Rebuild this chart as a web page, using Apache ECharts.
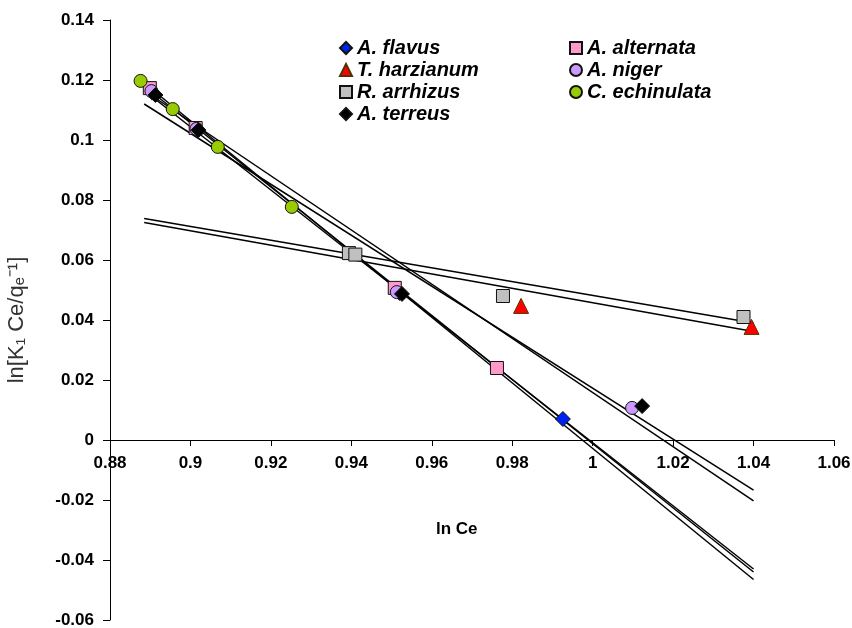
<!DOCTYPE html>
<html>
<head>
<meta charset="utf-8">
<script src="https://cdn.jsdelivr.net/npm/echarts@6/dist/echarts.min.js"></script>
<style>
  html, body { margin: 0; padding: 0; background: #fff; }
  #chart { width: 852px; height: 628px; }
</style>
</head>
<body>
<div id="chart"></div>
<script>
// measured points [ln Ce, ln(K1 Ce/qe^-1)]
const flavus     = [[0.8905, 0.1158], [0.9017, 0.1035], [0.9520, 0.0490], [0.9926, 0.0070]];
const alternata  = [[0.8899, 0.1173], [0.9013, 0.1040], [0.9508, 0.0507], [0.9762, 0.0240]];
const harzianum  = [[0.9822, 0.0447], [1.0395, 0.0377]];
const niger      = [[0.8903, 0.1163], [0.9015, 0.1037], [0.9513, 0.0493], [1.0098, 0.0107]];
const arrhizus   = [[0.9394, 0.0623], [0.9410, 0.0618], [0.9777, 0.0480], [1.0375, 0.0410]];
const echinulata = [[0.8876, 0.1197], [0.8956, 0.1103], [0.9068, 0.0977], [0.9252, 0.0777]];
const terreus    = [[0.8913, 0.1150], [0.9020, 0.1033], [0.9526, 0.0487], [1.0123, 0.0113]];

// trendline end points
const trendX = [0.8885, 1.04];
const trendFlavus     = [0.1165, -0.0430];
const trendAlternata  = [0.1180, -0.0440];
const trendHarzianum  = [0.0725, 0.0362];
const trendNiger      = [0.1165, -0.0203];
const trendArrhizus   = [0.0738, 0.0390];
const trendEchinulata = [0.1190, -0.0465];
const trendTerreus    = [0.1120, -0.0167];

const names = ["A. flavus", "A. alternata", "T. harzianum", "A. niger", "R. arrhizus", "C. echinulata", "A. terreus"];

const chart = echarts.init(document.getElementById("chart"));

function scatter(name, data, symbol, color, size, border) {
  return {
    name: name,
    type: "scatter",
    data: data,
    symbol: symbol,
    symbolSize: size,
    z: 3,
    itemStyle: { color: color, borderColor: border || "#111", borderWidth: 1, opacity: 1 }
  };
}
function trend(ys) {
  return {
    type: "line",
    data: [[trendX[0], ys[0]], [trendX[1], ys[1]]],
    symbol: "none",
    silent: true,
    z: 2,
    lineStyle: { color: "#000", width: 1.5 }
  };
}

const legendText = {
  color: "#000",
  fontSize: 20,
  fontWeight: "bold",
  fontStyle: "italic",
  fontFamily: "Arial"
};

const option = {
  backgroundColor: "#fff",
  animation: false,
  textStyle: { fontFamily: "Arial" },
  grid: { left: 110, right: 18, top: 20, bottom: 8, containLabel: false, outerBoundsMode: "none" },
  legend: [
    {
      orient: "vertical",
      left: 339, top: 38, padding: 0,
      itemWidth: 12, itemHeight: 12, itemGap: 2,
      data: [names[0], names[2], names[4], names[6]],
      textStyle: legendText
    },
    {
      orient: "vertical",
      left: 569, top: 38, padding: 0,
      itemWidth: 12, itemHeight: 12, itemGap: 2,
      data: [names[1], names[3], names[5]],
      textStyle: legendText
    }
  ],
  xAxis: {
    type: "value",
    min: 0.88, max: 1.06, interval: 0.02,
    axisLine: { onZero: false, lineStyle: { color: "#000", width: 1 } },
    axisTick: { show: true, length: 6, lineStyle: { color: "#000" } },
    axisLabel: { color: "#000", fontSize: 17, fontWeight: "bold", margin: 15 },
    splitLine: { show: false }
  },
  yAxis: {
    type: "value",
    min: -0.06, max: 0.14, interval: 0.02,
    name: "ln[K\u2081 Ce/q\u2091\u207B\u00B9]",
    nameLocation: "middle",
    nameRotate: 90,
    nameGap: 82,
    nameTextStyle: { color: "#333", fontSize: 22, fontWeight: "normal" },
    axisLine: { show: true, onZero: false, lineStyle: { color: "#000", width: 1 } },
    axisTick: { show: true, length: 7, lineStyle: { color: "#000" } },
    axisLabel: { color: "#000", fontSize: 17, fontWeight: "bold", margin: 16 },
    splitLine: { show: false }
  },
  graphic: [
    {
      type: "text",
      left: 436, top: 521,
      style: { text: "ln Ce", fill: "#000", font: "bold 17px Arial" }
    }
  ],
  series: [
    trend(trendFlavus), trend(trendAlternata), trend(trendHarzianum), trend(trendNiger),
    trend(trendArrhizus), trend(trendEchinulata), trend(trendTerreus),
    scatter(names[0], flavus, "diamond", "#0022ee", 15),
    scatter(names[1], alternata, "rect", "#ff99cc", 13),
    scatter(names[2], harzianum, "triangle", "#ff0000", 15, "#553300"),
    scatter(names[3], niger, "circle", "#cc99ff", 13),
    scatter(names[4], arrhizus, "rect", "#c0c0c0", 13),
    scatter(names[5], echinulata, "circle", "#99cc00", 13),
    scatter(names[6], terreus, "diamond", "#000000", 15)
  ]
};
chart.setOption(option);

// put the x axis (line, ticks, labels) on y = 0
const zeroY = chart.convertToPixel({ yAxisIndex: 0 }, 0);
const bottomY = chart.convertToPixel({ yAxisIndex: 0 }, -0.06);
chart.setOption({ xAxis: { offset: -(bottomY - zeroY) } });
</script>
</body>
</html>
